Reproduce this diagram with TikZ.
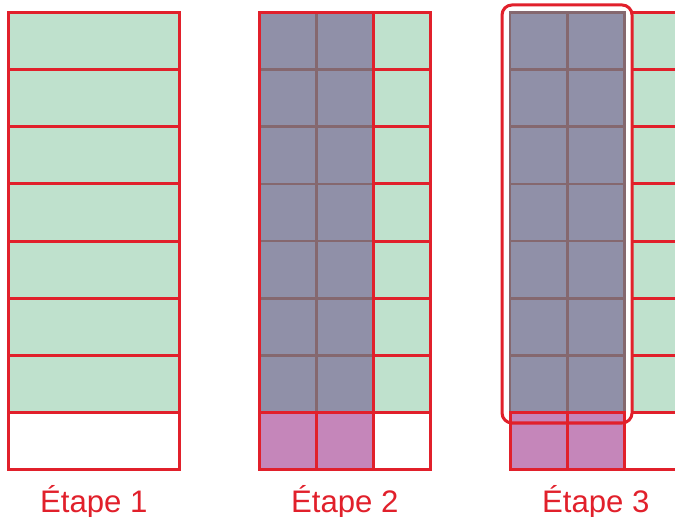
\documentclass[tikz,border=0pt]{standalone}
\usepackage{fontspec}
\setmainfont{Liberation Sans}
\usetikzlibrary{positioning,calc}
\definecolor{cellgreen}{HTML}{BFE1CD}
\definecolor{blockgrey}{HTML}{9090A8}
\definecolor{rowpink}{HTML}{C586BA}
\definecolor{gridred}{HTML}{E1202B}
\definecolor{blockline}{HTML}{85686F}

\begin{document}
\begin{tikzpicture}[
  redline/.style={draw=gridred, line width=1.5pt},
  greyline/.style={draw=blockline, line width=1.3pt},
  moved/.style={draw=gridred, line width=1.5pt, rounded corners=0.175cm},
  stage/.style={font=\fontsize{15.5}{18}\selectfont, text=gridred,
                anchor=base, inner sep=0pt},
]
\useasboundingbox (0,0) rectangle (11.80,9.038);

% ================= panel 1 =========================================
\coordinate (one) at (0.14,0.822);
\fill[cellgreen] ($(one)+(0,1)$) rectangle ++(3,7);
\foreach \r in {1,...,7}
  \draw[redline] ($(one)+(0,\r)$) -- ++(3,0);
\draw[redline] (one) rectangle ++(3,8);
\node[stage] (stage1) at ($(one)+(1.5,-0.735)$) {Étape 1};

% ================= panel 2 =========================================
\coordinate (two) at (4.528,0.822);
\fill[cellgreen] ($(two)+(2,1)$) rectangle ++(1,7);
\fill[blockgrey] ($(two)+(0,1)$) rectangle ++(2,7);
\fill[rowpink] (two) rectangle ++(2,1);
% block grid
\draw[greyline] ($(two)+(1,1)$) -- ++(0,7);
\foreach \r in {2,...,7}
  \draw[greyline] ($(two)+(0,\r)$) -- ++(2,0);
% red grid
\foreach \r in {2,...,7}
  \draw[redline] ($(two)+(2,\r)$) -- ++(1,0);
\draw[redline] ($(two)+(0,1)$) -- ++(3,0);
\draw[redline] ($(two)+(1,0)$) -- ++(0,1);
\draw[redline] ($(two)+(2,0)$) -- ++(0,8);
\draw[redline] (two) rectangle ++(3,8);
\node[stage] (stage2) at ($(two)+(1.5,-0.735)$) {Étape 2};

% ================= panel 3 =========================================
\coordinate (three) at (8.916,0.822);
\coordinate (col) at (11.049,0.822);
\fill[cellgreen] ($(col)+(0,1)$) rectangle ++(1.2,7);
\foreach \r in {1,...,8}
  \draw[redline] ($(col)+(0,\r)$) -- ++(1.2,0);
\draw[redline] (three) -- ++(3.2,0);
% moved block
\fill[blockgrey] ($(three)+(0,1)$) rectangle ++(2,7);
\draw[greyline] ($(three)+(1,1)$) -- ++(0,7);
\foreach \r in {2,...,7}
  \draw[greyline] ($(three)+(0,\r)$) -- ++(2,0);
\draw[greyline] ($(three)+(0,1)$) rectangle ++(2,7);
% bottom row
\fill[rowpink] (three) rectangle ++(2,1);
\draw[redline] ($(three)+(1,0)$) -- ++(0,1);
\draw[redline] (three) rectangle ++(2,1);
\draw[moved] (8.776,1.643) rectangle (11.049,8.951);
\node[stage] (stage3) at ($(three)+(1.5,-0.735)$) {Étape 3};

\end{tikzpicture}
\end{document}
